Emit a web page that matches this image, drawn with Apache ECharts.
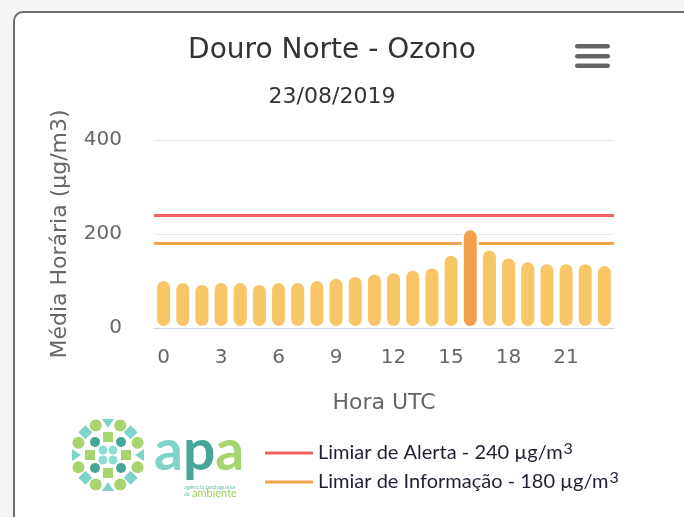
<!DOCTYPE html>
<html>
<head>
<meta charset="utf-8">
<title>Douro Norte - Ozono</title>
<script src="https://cdn.jsdelivr.net/npm/echarts@6/dist/echarts.min.js"></script>
<style>
  html, body { margin: 0; padding: 0; background: #f5f5f5; overflow: hidden; }
  .card {
    position: absolute; left: 13px; top: 11px; width: 720px; height: 560px;
    border: 2px solid #6b6b6b; border-radius: 10px; background: #fff;
  }
  #main { position: absolute; left: 0; top: 0; width: 684px; height: 517px; }
</style>
</head>
<body>
<div class="card"></div>
<div id="main"></div>
<script>
// hourly ozone means, 23/08/2019
var hours = ["0", "1", "2", "3", "4", "5", "6", "7", "8", "9", "10", "11",
  "12", "13", "14", "15", "16", "17", "18", "19", "20", "21", "22", "23"];
var ozone = [104, 100, 96, 100, 100, 96, 100, 100, 104, 109, 113, 118,
  121, 126, 131, 158, 212, 169, 152, 144, 140, 140, 140, 136];
var alertLimit = 240;
var infoLimit = 180;
var limitNames = ["Limiar de Alerta - 240 µg/m3", "Limiar de Informação - 180 µg/m3"];
var yMin = 0, yMax = 400, yStep = 200;

var chartDom = document.getElementById("main");
var myChart = echarts.init(chartDom);
var font = "DejaVu Sans";

// apa logo (decoration only)
var green = "#a8d46f", teal = "#7fd4c9", darkTeal = "#45a597", lightTeal = "#8fdcd3";
var cx = 108, cy = 455;
var logo = [];
for (var i = 0; i < 16; i++) {
  var a = i * Math.PI / 8;
  var x = cx + 32 * Math.sin(a), y = cy - 32 * Math.cos(a);
  var k = i % 4;
  if (k === 1 || k === 3) {
    logo.push({ type: "circle", shape: { cx: x, cy: y, r: 6 }, style: { fill: green } });
  } else if (k === 2) {
    logo.push({ type: "polygon", shape: { points: [[x, y - 7], [x + 7, y], [x, y + 7], [x - 7, y]] }, style: { fill: teal } });
  } else {
    // triangle pointing to the centre
    var ux = (cx - x) / 32, uy = (cy - y) / 32;
    logo.push({ type: "polygon", shape: { points: [
      [x + ux * 5, y + uy * 5],
      [x - ux * 4 + uy * 6, y - uy * 4 - ux * 6],
      [x - ux * 4 - uy * 6, y - uy * 4 + ux * 6]
    ] }, style: { fill: teal } });
  }
}
[[-13, -13], [13, -13], [-13, 13], [13, 13]].forEach(function (d) {
  logo.push({ type: "circle", shape: { cx: cx + d[0], cy: cy + d[1], r: 5 }, style: { fill: darkTeal } });
});
[[0, -18], [-18, 0], [18, 0], [0, 18]].forEach(function (d) {
  logo.push({ type: "rect", shape: { x: cx + d[0] - 5, y: cy + d[1] - 5, width: 10, height: 10 }, style: { fill: green } });
});
[[-5, -5], [5, -5], [-5, 5], [5, 5]].forEach(function (d) {
  logo.push({ type: "circle", shape: { cx: cx + d[0], cy: cy + d[1], r: 4.5 }, style: { fill: lightTeal } });
});
logo.push({
  type: "text", x: 154, y: 423,
  style: {
    text: "{a|a}{p|p}{b|a}",
    rich: {
      a: { fontSize: 57, fontWeight: "bold", fontFamily: "Lato", fill: teal },
      p: { fontSize: 57, fontWeight: "bold", fontFamily: "Lato", fill: darkTeal },
      b: { fontSize: 57, fontWeight: "bold", fontFamily: "Lato", fill: green }
    }
  }
});
logo.push({ type: "text", x: 184, y: 484, style: { text: "agência portuguesa", fontSize: 6, fontFamily: "Lato", fill: "#6cc4b8" } });
logo.push({ type: "text", x: 184, y: 492, style: { text: "do", fontSize: 5, fontFamily: "Lato", fill: "#6cc4b8" } });
logo.push({ type: "text", x: 192, y: 488, style: { text: "ambiente", fontSize: 11, fontFamily: "Lato", fill: "#9bcf5f" } });

var menu = [44, 54, 63.5].map(function (y) {
  return { type: "rect", shape: { x: 575, y: y, width: 35, height: 4.6, r: 2.3 }, style: { fill: "#666" } };
});

function limitLine(name, value, color) {
  return {
    name: name,
    type: "line",
    data: [],
    color: color,
    markLine: {
      silent: true,
      z: 1,
      symbol: "none",
      label: { show: false },
      lineStyle: { color: color, width: 3, type: "solid" },
      emphasis: { disabled: true },
      data: [{ yAxis: value }]
    }
  };
}

var option = {
  animation: false,
  title: [
    {
      text: "Douro Norte - Ozono",
      left: 327, top: 32, textAlign: "center",
      textStyle: { fontFamily: font, fontSize: 28, fontWeight: "normal", color: "#333" }
    },
    {
      text: "23/08/2019",
      left: 327, top: 81, textAlign: "center",
      textStyle: { fontFamily: font, fontSize: 22, fontWeight: "normal", color: "#333" }
    }
  ],
  legend: {
    data: limitNames,
    orient: "vertical",
    left: 260, top: 436,
    itemWidth: 48, itemHeight: 3, itemGap: 6,
    icon: "rect",
    selectedMode: false,
    formatter: function (name) {
      return name.replace(/3$/, "") + "{s|3}";
    },
    textStyle: {
      fontFamily: "Lato", fontSize: 20, color: "#221f33", lineHeight: 22,
      rich: { s: { fontFamily: "Lato", fontSize: 16, color: "#221f33", padding: [0, 0, 8, 1] } }
    }
  },
  grid: { left: 154, right: 70, top: 140, bottom: 189 },
  xAxis: {
    type: "category",
    data: hours,
    name: "Hora UTC",
    nameLocation: "middle",
    nameGap: 64,
    nameTextStyle: { fontFamily: font, fontSize: 22, color: "#666" },
    axisLine: { lineStyle: { color: "#ccd6eb", width: 1 } },
    axisTick: { alignWithLabel: true, interval: 2, length: 10, lineStyle: { color: "#ccd6eb" } },
    axisLabel: { interval: 2, margin: 20, fontFamily: font, fontSize: 20, color: "#666" }
  },
  yAxis: {
    type: "value",
    min: yMin, max: yMax, interval: yStep,
    name: "Média Horária (µg/m3)",
    nameLocation: "middle",
    nameGap: 83,
    nameTextStyle: { fontFamily: font, fontSize: 22, color: "#666" },
    axisLine: { show: false },
    axisTick: { show: false },
    splitLine: { lineStyle: { color: "#e6e6e6", width: 1 } },
    axisLabel: { margin: 32, fontFamily: font, fontSize: 20, color: "#666" }
  },
  graphic: logo.concat(menu),
  series: [
    {
      name: "Ozono",
      type: "bar",
      data: ozone,
      barWidth: 17,
      z: 3,
      itemStyle: {
        color: function (p) { return p.value > infoLimit ? "#f4a04a" : "#f8c666"; },
        borderColor: "#fff",
        borderWidth: 2,
        borderRadius: 8.5
      },
      emphasis: { disabled: true }
    },
    limitLine(limitNames[0], alertLimit, "#f06161"),
    limitLine(limitNames[1], infoLimit, "#f5a04a")
  ]
};

option && myChart.setOption(option);
</script>
</body>
</html>
